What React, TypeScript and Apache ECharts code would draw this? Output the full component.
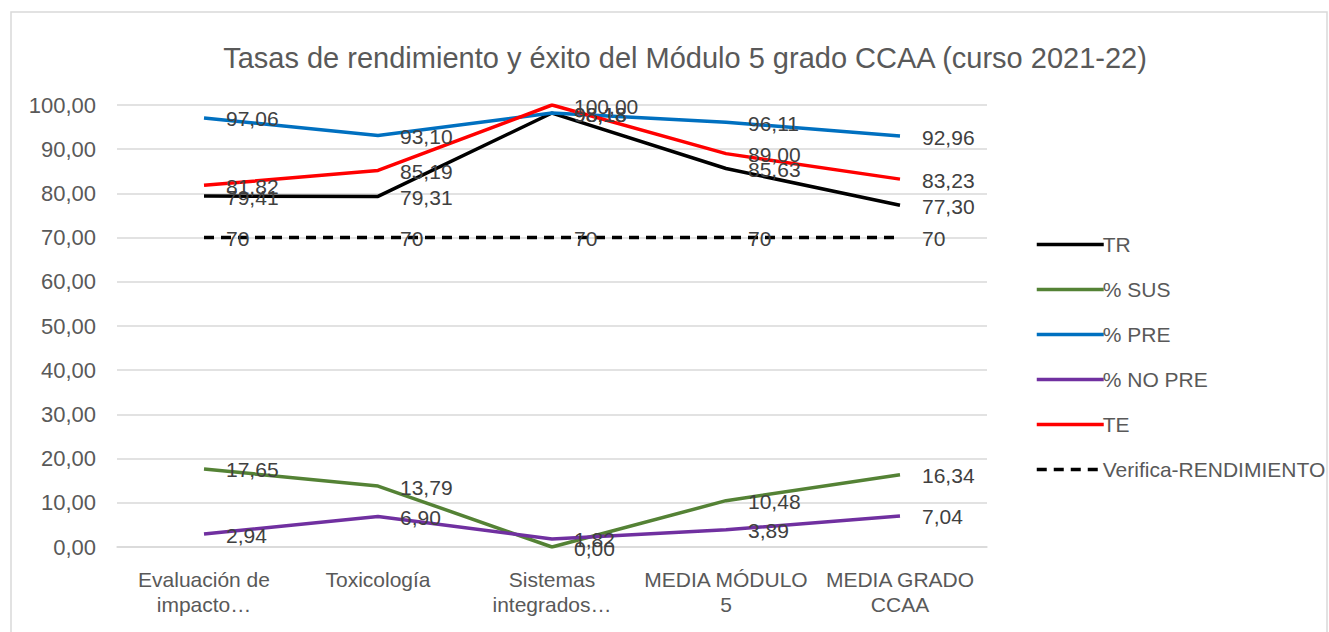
import React, { useEffect, useRef } from "react";
import * as echarts from "echarts";

const categories = ["Evaluación de\nimpacto…", "Toxicología", "Sistemas\nintegrados…", "MEDIA MÓDULO\n5", "MEDIA GRADO\nCCAA"];
const tr = [79.41, 79.31, 98.18, 85.63, 77.30];
const sus = [17.65, 13.79, 0.00, 10.48, 16.34];
const pre = [97.06, 93.10, 98.18, 96.11, 92.96];
const noPre = [2.94, 6.90, 1.82, 3.89, 7.04];
const te = [81.82, 85.19, 100.00, 89.00, 83.23];
const verifica = [70, 70, 70, 70, 70];

const FONT = "Liberation Sans";
const fmt = (v: number) => v.toFixed(2).replace(".", ",");

export default function App() {
  const ref = useRef<HTMLDivElement>(null);
  useEffect(() => {
    const chart = echarts.init(ref.current!, undefined, { renderer: "svg" });
    const mk = (name: string, data: number[], color: string, dashed = false, plain = false) => ({
      name,
      type: "line",
      data,
      symbol: "circle",
      symbolSize: 0.01,
      showSymbol: true,
      lineStyle: { color, width: 3.5, type: dashed ? [10, 7] : "solid" },
      itemStyle: { color },
      label: {
        show: true,
        position: "right",
        distance: 22,
        offset: [0, 1],
        color: "#404040",
        fontFamily: FONT,
        fontSize: 21,
        formatter: (p: any) => (plain ? String(p.value) : fmt(p.value)),
      },
    });
    chart.setOption({
      animation: false,
      backgroundColor: "#ffffff",
      textStyle: { fontFamily: FONT },
      title: {
        text: "Tasas de rendimiento y éxito del Módulo 5 grado CCAA (curso 2021-22)",
        left: 680,
        textAlign: "center",
        top: 38,
        textStyle: { fontFamily: FONT, fontSize: 29, fontWeight: "normal", color: "#595959" },
      },
      legend: {
        orient: "vertical",
        left: 1030,
        top: 229,
        itemWidth: 67,
        itemHeight: 4,
        itemGap: 24,
        itemStyle: { opacity: 0 },
        lineStyle: { width: 3.5 },
        textStyle: { fontFamily: FONT, fontSize: 21, color: "#595959", padding: [0, 0, 0, -6] },
        data: ["TR", "% SUS", "% PRE", "% NO PRE", "TE", "Verifica-RENDIMIENTO"],
      },
      grid: { left: 117, right: 342, top: 105, bottom: 85 },
      xAxis: {
        type: "category",
        data: categories,
        boundaryGap: true,
        axisLine: { lineStyle: { color: "#d9d9d9", width: 1.5 } },
        axisTick: { show: false },
        axisLabel: { fontFamily: FONT, fontSize: 21, color: "#595959", margin: 20, lineHeight: 25, interval: 0 },
      },
      yAxis: {
        type: "value",
        min: 0,
        max: 100,
        interval: 10,
        axisLine: { show: false },
        axisTick: { show: false },
        splitLine: { lineStyle: { color: "#d9d9d9", width: 1.5 } },
        axisLabel: { fontFamily: FONT, fontSize: 22, color: "#595959", margin: 21, formatter: (v: number) => fmt(v) },
      },
      graphic: [
        {
          type: "rect",
          shape: { x: 11, y: 12, width: 1316, height: 640 },
          style: { fill: "none", stroke: "#d9d9d9", lineWidth: 1.5 },
          silent: true,
          z: -1,
        },
      ],
      series: [
        mk("TR", tr, "#000000"),
        mk("% SUS", sus, "#548235"),
        mk("% PRE", pre, "#0070C0"),
        mk("% NO PRE", noPre, "#7030A0"),
        mk("TE", te, "#FF0000"),
        mk("Verifica-RENDIMIENTO", verifica, "#000000", true, true),
      ],
    });
    return () => chart.dispose();
  }, []);
  return <div ref={ref} style={{ position: "absolute", left: 0, top: 0, width: 1329, height: 632 }} />;
}
